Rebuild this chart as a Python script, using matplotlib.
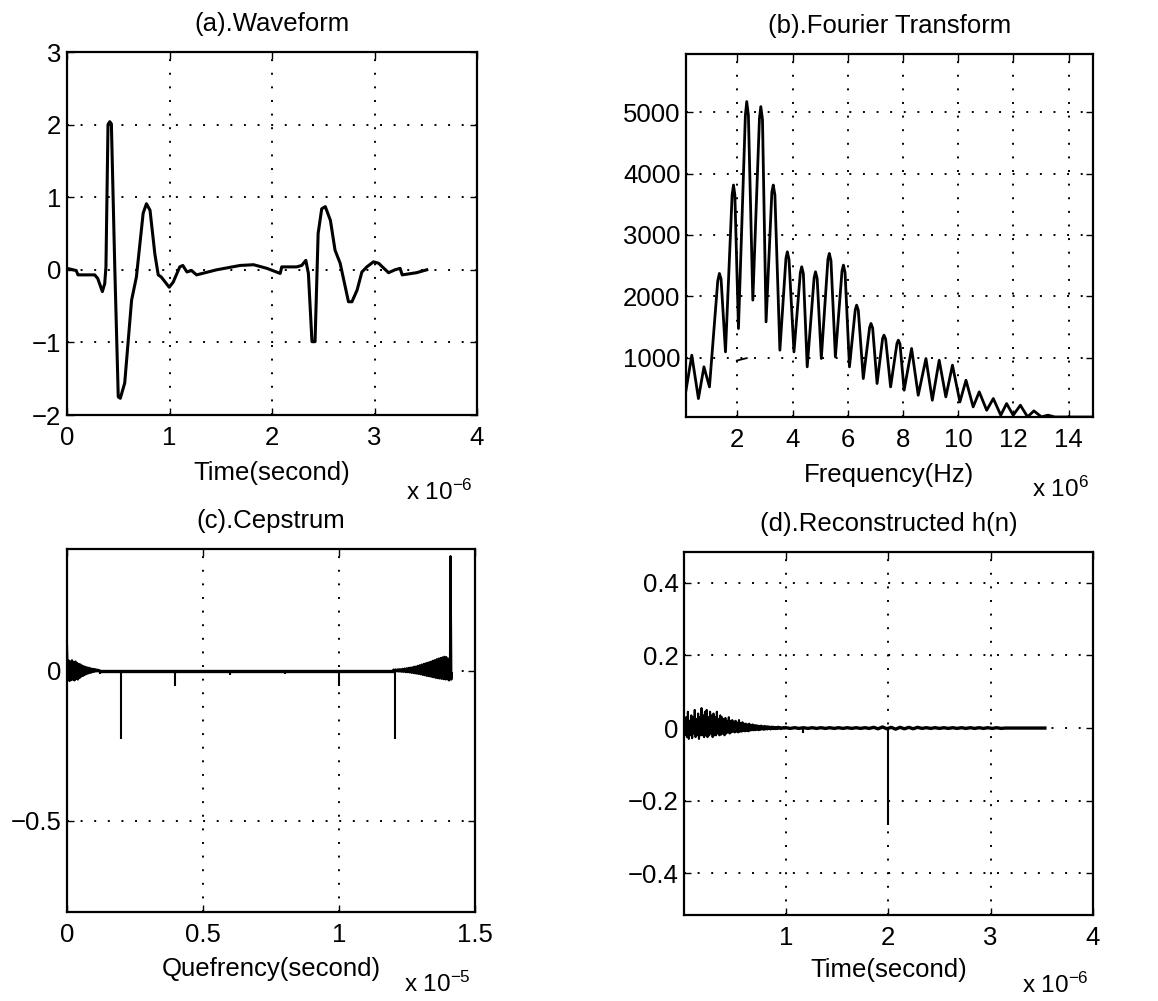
import numpy as np
import matplotlib
matplotlib.use("Agg")
import matplotlib.pyplot as plt
from matplotlib.ticker import FuncFormatter

plt.rcParams['font.family'] = ['Liberation Sans', 'DejaVu Sans']
plt.rcParams['mathtext.fontset'] = 'custom'
plt.rcParams['mathtext.rm'] = 'Liberation Sans'
plt.rcParams['mathtext.it'] = 'Liberation Sans'
plt.rcParams['mathtext.default'] = 'regular'

# ---- (a) waveform, time in 1e-6 s ----
wave_t = [0.0, 0.09, 0.107, 0.27, 0.30, 0.345, 0.368, 0.38, 0.40, 0.417, 0.433, 0.466,
          0.50, 0.52, 0.563, 0.63, 0.677, 0.743, 0.775, 0.81, 0.857, 0.89, 0.92, 0.997,
          1.036, 1.10, 1.13, 1.17, 1.215, 1.264, 1.46, 1.69, 1.82, 1.95, 2.08, 2.095,
          2.24, 2.29, 2.33, 2.355, 2.39, 2.42, 2.45, 2.485, 2.52, 2.57, 2.615, 2.665,
          2.746, 2.78, 2.83, 2.877, 2.925, 2.99, 3.04, 3.137, 3.20, 3.25, 3.27, 3.41, 3.51]
wave_v = [0.02, -0.01, -0.07, -0.07, -0.12, -0.30, -0.19, 0.04, 2.0, 2.04, 2.01, 0.04,
          -1.75, -1.77, -1.56, -0.42, -0.10, 0.78, 0.91, 0.82, 0.22, -0.07, -0.10, -0.24,
          -0.17, 0.04, 0.06, -0.03, -0.01, -0.07, 0.0, 0.06, 0.07, 0.02, -0.05, 0.04,
          0.04, 0.06, 0.13, -0.05, -0.99, -0.99, 0.50, 0.84, 0.87, 0.68, 0.27, 0.09,
          -0.44, -0.44, -0.28, -0.03, 0.04, 0.11, 0.09, -0.04, 0.0, 0.02, -0.07, -0.04, 0.0]

# ---- (b) Fourier magnitude, frequency in 1e6 Hz ----
fft_f = [0.14, 0.35, 0.59, 0.79, 0.99, 1.29, 1.35, 1.41, 1.57, 1.81, 1.86, 1.91, 2.04,
         2.29, 2.34, 2.40, 2.56, 2.80, 2.85, 2.91, 3.04, 3.25, 3.30, 3.36, 3.54,
         3.76, 3.81, 3.87, 4.05, 4.28, 4.33, 4.39, 4.53, 4.78, 4.83, 4.89, 5.04,
         5.28, 5.33, 5.39, 5.55, 5.79, 5.84, 5.90, 6.06, 6.27, 6.32, 6.38,
         6.56, 6.79, 6.84, 6.90, 7.06, 7.26, 7.31, 7.37, 7.55, 7.78, 7.83, 7.89, 8.04,
         8.31, 8.55, 8.83, 9.06, 9.31, 9.55,
         9.79, 10.06, 10.28, 10.54, 10.76, 11.03, 11.27, 11.54, 11.75, 11.99, 12.25,
         12.51, 12.74, 13.01, 13.25, 13.5, 14.88]
fft_mag = [467, 1038, 331, 848, 521, 2250, 2371, 2280, 1092, 3650, 3813, 3650, 1473,
           4950, 5174, 4950, 1936, 4900, 5092, 4880, 1582, 3700, 3813, 3650, 1120,
           2620, 2724, 2600, 1092, 2380, 2480, 2370, 848, 2300, 2398, 2290, 984,
           2600, 2697, 2580, 1011, 2410, 2507, 2390, 848, 1780, 1854, 1770,
           657, 1490, 1555, 1480, 576, 1310, 1365, 1300, 521, 1230, 1283, 1220, 467,
           1147, 385, 984, 304, 956, 358,
           875, 276, 630, 195, 440, 140, 331, 59, 249, 59, 222,
           32, 130, 32, 60, 30, 30]
fft_stray_f = [1.98, 2.34]
fft_stray_mag = [950, 990]

# ---- (c) cepstrum, quefrency in 1e-5 s ----
cep_head = [0.08, -0.03, 0.033, -0.035, 0.03, -0.032, 0.034, -0.03, 0.028, -0.033,
            0.03, -0.028, 0.025, -0.03, 0.022, -0.025, 0.02, -0.02, 0.016, -0.018,
            0.014, -0.015, 0.012, -0.012, 0.01, -0.01, 0.009, -0.008, 0.007, -0.007,
            0.006, -0.005, 0.005, -0.004, 0.004, -0.003, 0.003, -0.003, 0.002, 0.0]
cep_head_span = (0.0, 0.12)
cep_tail = [0.003, -0.003, 0.004, -0.003, 0.004, -0.004, 0.005, -0.004, 0.005, -0.005,
            0.006, -0.005, 0.007, -0.006, 0.008, -0.006, 0.009, -0.007, 0.010, -0.008,
            0.011, -0.009, 0.013, -0.010, 0.014, -0.011, 0.016, -0.012, 0.018, -0.013,
            0.020, -0.015, 0.022, -0.016, 0.024, -0.018, 0.026, -0.019, 0.028, -0.020,
            0.030, -0.022, 0.033, -0.023, 0.035, -0.025, 0.038, -0.026, 0.040, -0.027,
            0.042, -0.028, 0.044, -0.029, 0.046, -0.030, 0.045, -0.030, 0.040, -0.032]
cep_tail_span = (1.20, 1.405)
cep_mid_q = [0.12, 1.20]
cep_mid_v = [0.0, 0.0]
cep_end_q = [1.405, 1.408, 1.41, 1.413, 1.415]
cep_end_v = [-0.032, 0.0, 0.38, -0.03, -0.01]
cep_spike_q = [0.12, 0.2, 0.398, 0.6, 0.8, 1.0, 1.206]
cep_spike_v = [-0.01, -0.229, -0.051, -0.014, -0.012, -0.05, -0.229]

# ---- (d) reconstructed h(n), time in 1e-6 s ----
h_head = [0.01, -0.02, 0.03, -0.025, 0.045, -0.03, 0.02, -0.02, 0.035, -0.028, 0.03, -0.015,
          0.05, -0.025, 0.025, -0.02, 0.04, -0.03, 0.03, -0.02, 0.055, -0.02, 0.035, -0.025,
          0.045, -0.02, 0.05, -0.025, 0.03, -0.02, 0.045, -0.015, 0.035, -0.025, 0.04, -0.02,
          0.03, -0.02, 0.045, -0.015, 0.025, -0.02, 0.035, -0.018, 0.03, -0.015, 0.025, -0.02,
          0.028, -0.015, 0.02, -0.012, 0.03, -0.015, 0.02, -0.012, 0.022, -0.01, 0.018, -0.012,
          0.02, -0.01, 0.015, -0.012, 0.022, -0.01, 0.014, -0.01, 0.016, -0.008, 0.012, -0.009,
          0.012, -0.008, 0.01, -0.009, 0.012, -0.007, 0.009, -0.006, 0.01, -0.006, 0.008, -0.006,
          0.008, -0.005, 0.007, -0.006, 0.006, -0.005, 0.007, -0.004, 0.005, -0.005, 0.006, -0.004,
          0.005, -0.004, 0.005, -0.003, 0.004, -0.004, 0.004, -0.003, 0.004, -0.003, 0.003, -0.003,
          0.003, -0.003, 0.004, -0.002, 0.003, -0.003, 0.002, -0.002, 0.003, -0.002, 0.002, 0.0]
h_head_span = (0.01, 1.0)
h_tail = [0.001, -0.001, 0.001, -0.001, 0.001, -0.001, 0.001, -0.001, 0.001, -0.001,
          0.001, -0.001, 0.001, -0.001, 0.001, -0.001, 0.001, -0.001, 0.001, -0.001,
          0.002, -0.002, 0.003, -0.002, 0.002, -0.003, 0.002, -0.002, 0.002, -0.002,
          0.002, -0.001, 0.001, -0.001, 0.001, -0.001, 0.001, -0.001, 0.001, -0.001,
          0.001, -0.001, 0.001, -0.001, 0.001, -0.001, 0.001, -0.001, 0.001, -0.001,
          0.0, 0.0, 0.0, 0.0, 0.0, 0.0, 0.0, 0.0, 0.0, 0.0]
h_tail_span = (1.0, 3.53)
h_spike_t = [1.17, 2.0]
h_spike_v = [-0.014, -0.266]

W, H = 1158, 1001
FS = 18.5
fig = plt.figure(figsize=(W / 100, H / 100), dpi=100)


def make_axes(px_left, px_top, px_w, px_h):
    return fig.add_axes([px_left / W, 1 - (px_top + px_h) / H, px_w / W, px_h / H])


def fmt(v, pos):
    return ('%g' % v).replace('-', '\u2212')


def style(ax, title, xlabel, expo, xlabel_y, expo_y):
    ax.set_title(title, fontsize=FS, pad=15)
    ax.grid(True, color='black', linestyle=(0, (1, 6)), linewidth=1.4)
    ax.tick_params(direction='in', length=5, width=1, top=True, right=True,
                   labelsize=FS, colors='black')
    ax.tick_params(axis='x', pad=8)
    ax.tick_params(axis='y', pad=4)
    for s in ax.spines.values():
        s.set_linewidth(1.6)
    ax.xaxis.set_major_formatter(FuncFormatter(fmt))
    ax.yaxis.set_major_formatter(FuncFormatter(fmt))
    ax.set_xlabel(xlabel, fontsize=FS)
    ax.xaxis.set_label_coords(0.5, xlabel_y)
    ax.xaxis.label.set_va('baseline')
    ax.text(0.99, expo_y, 'x 10$^{%s}$' % expo, transform=ax.transAxes,
            ha='right', va='baseline', fontsize=FS - 1)


# (a)
ax = make_axes(67, 52, 410, 363)
ax.plot(wave_t, wave_v, color='black', lw=2.2)
ax.set_xlim(0, 4)
ax.set_ylim(-2, 3)
ax.set_xticks([0, 1, 2, 3, 4])
ax.set_yticks([-2, -1, 0, 1, 2, 3])
style(ax, '(a).Waveform', 'Time(second)', '\u22126', -0.18, -0.235)

# (b)
ax = make_axes(686, 54, 407, 363)
ax.plot(fft_f, fft_mag, color='black', lw=2.0)
ax.plot(fft_stray_f, fft_stray_mag, color='black', lw=1.3)
ax.set_xlim(0.14, 14.88)
ax.set_ylim(30, 5950)
ax.set_xticks([2, 4, 6, 8, 10, 12, 14])
ax.set_yticks([1000, 2000, 3000, 4000, 5000])
style(ax, '(b).Fourier Transform', 'Frequency(Hz)', '6', -0.18, -0.22)

# (c)
ax = make_axes(67, 549, 408, 363)
ax.plot(np.linspace(*cep_head_span, len(cep_head)), cep_head, color='black', lw=1.6)
ax.plot(cep_mid_q, cep_mid_v, color='black', lw=2.4)
ax.plot(np.linspace(*cep_tail_span, len(cep_tail)), cep_tail, color='black', lw=1.4)
ax.plot(cep_end_q, cep_end_v, color='black', lw=1.6)
ax.vlines(cep_spike_q, 0, cep_spike_v, color='black', lw=1.5)
ax.set_xlim(0, 1.5)
ax.set_ylim(-0.803, 0.404)
ax.set_xticks([0, 0.5, 1, 1.5])
ax.set_yticks([-0.5, 0])
style(ax, '(c).Cepstrum', 'Quefrency(second)', '\u22125', -0.175, -0.22)

# (d)
ax = make_axes(684, 552, 409, 363)
ax.plot(np.linspace(*h_head_span, len(h_head)), h_head, color='black', lw=1.5)
ax.plot(np.linspace(*h_tail_span, len(h_tail)), h_tail, color='black', lw=2.4)
ax.vlines(h_spike_t, 0, h_spike_v, color='black', lw=1.5)
ax.set_xlim(0.005, 4)
ax.set_ylim(-0.515, 0.485)
ax.set_xticks([1, 2, 3, 4])
ax.set_yticks([-0.4, -0.2, 0, 0.2, 0.4])
style(ax, '(d).Reconstructed h(n)', 'Time(second)', '\u22126', -0.17, -0.215)

fig.savefig('out.png', dpi=100)
